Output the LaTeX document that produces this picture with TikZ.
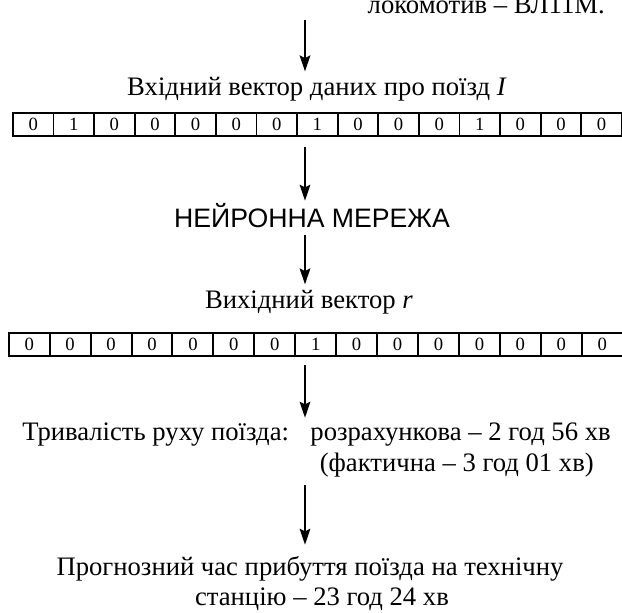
\documentclass[tikz,border=0pt]{standalone}
\usepackage{fontspec}
\setmainfont{Liberation Serif}
\newfontfamily\sanstxt{Liberation Sans}
\usepackage{tikz}
\usetikzlibrary{arrows.meta}

\begin{document}
\begin{tikzpicture}[x=0.75pt, y=-0.75pt,
  font=\fontsize{20}{24}\selectfont,
  txt/.style={inner sep=0pt, text height=14pt, text depth=4pt},
  cell/.style={draw, line width=1.3pt, anchor=north west, inner sep=0pt,
    minimum width=30.5pt, minimum height=17.5pt, font=\fontsize{14}{16}\selectfont},
  arr/.style={-{Stealth[length=12pt, width=8pt, inset=2pt]}, line width=1.2pt}]
\useasboundingbox (0,0) rectangle (622,613);
% header line, cut by the page edge
\node[anchor=base east, inner sep=0pt] (loco) at (605,14) {локомотив – ВЛ11М.};
\coordinate (top) at (305,20);
% input vector
\node[txt] (inp) at (317,89) {Вхідний вектор даних про поїзд \textit{I}};
\foreach \v [count=\i] in {0,1,0,0,0,0,0,1,0,0,0,1,0,0,0}
  \node[cell] (a\i) at ({12+(\i-1)*40.6},112) {\v};
\node[txt, font=\sanstxt\fontsize{20}{24}\selectfont] (nn) at (312,221) {НЕЙРОННА МЕРЕЖА};
% output vector
\node[txt] (out) at (309,302) {Вихідний вектор \textit{r}};
\foreach \v [count=\i] in {0,0,0,0,0,0,0,1,0,0,0,0,0,0,0}
  \node[cell] (b\i) at ({8+(\i-1)*40.93},332) {\v};
% results
\node[txt, anchor=west] (lbl) at (22,434) {Тривалість руху поїзда:};
\node[txt, anchor=east] (calc) at (611,434) {розрахункова – 2 год 56 хв};
\node[txt, anchor=east] (fact) at (594,465) {(фактична – 3 год 01 хв)};
\node[txt] (prog) at (310,569) {Прогнозний час прибуття поїзда на технічну};
\node[txt] (stn) at (322,599) {станцію – 23 год 24 хв};
% arrows
\draw[arr, shorten >=4pt] (top) -- (top |- inp.north);
\draw[arr, shorten <=7.5pt, shorten >=6pt] (top |- a1.south) -- (top |- nn.north);
\draw[arr, shorten <=1.5pt, shorten >=4pt] (top |- nn.south) -- (top |- out.north);
\draw[arr, shorten <=6pt, shorten >=3pt] (top |- b1.south) -- (top |- calc.north);
\draw[arr, shorten <=6pt, shorten >=9pt] (top |- fact.south) -- (top |- prog.north);
\end{tikzpicture}
\end{document}
